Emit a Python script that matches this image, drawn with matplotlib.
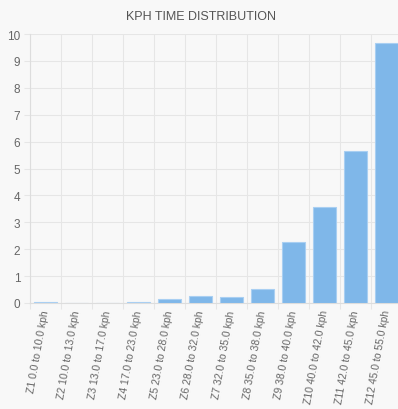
import matplotlib.pyplot as plt
import numpy as np

plt.rcParams['font.family'] = ['Liberation Sans', 'DejaVu Sans']

zones = ["Z1 0.0 to 10.0 kph", "Z2 10.0 to 13.0 kph", "Z3 13.0 to 17.0 kph",
         "Z4 17.0 to 23.0 kph", "Z5 23.0 to 28.0 kph", "Z6 28.0 to 32.0 kph",
         "Z7 32.0 to 35.0 kph", "Z8 35.0 to 38.0 kph", "Z9 38.0 to 40.0 kph",
         "Z10 40.0 to 42.0 kph", "Z11 42.0 to 45.0 kph", "Z12 45.0 to 55.0 kph"]
hours = [0.04, 0.0, 0.0, 0.04, 0.16, 0.26, 0.22, 0.52, 2.27, 3.58, 5.65, 9.67]

bg = "#f8f8f8"
grid_c = "#e6e6e6"
text_c = "#666666"

fig = plt.figure(figsize=(3.98, 4.10), dpi=100, facecolor=bg)
W, H = 398, 410
left, right, top, bottom = 30, 402, 35, 304
ax = fig.add_axes([left / W, 1 - bottom / H, (right - left) / W, (bottom - top) / H])
ax.set_facecolor(bg)

x = np.arange(len(zones))
ax.bar(x, hours, width=0.72, color="#7fb7e9", edgecolor="#a9cff2", linewidth=0.8, zorder=3)

ax.set_xlim(-0.5, len(zones) - 0.5)
ax.set_ylim(0, 10)
ax.set_yticks(range(0, 11))
ax.tick_params(axis='y', colors=grid_c, labelcolor=text_c, labelsize=8.5, length=4, width=0.8, pad=3)

# grid lines between categories
ax.set_xticks(np.arange(-0.5, len(zones), 1), minor=True)
ax.set_xticks(x)
ax.set_xticklabels(zones, rotation=80, ha='right', va='center', rotation_mode='anchor',
                   fontsize=7.5, color=text_c)
ax.tick_params(axis='x', which='major', length=0, pad=5)
ax.tick_params(axis='x', which='minor', length=4, width=0.8, colors=grid_c)
ax.grid(True, axis='x', which='minor', color=grid_c, linewidth=0.8, zorder=0)
ax.grid(True, axis='y', which='major', color=grid_c, linewidth=0.8, zorder=0)

for side in ['top', 'right']:
    ax.spines[side].set_visible(False)
for side in ['left', 'bottom']:
    ax.spines[side].set_color("#dddddd")
    ax.spines[side].set_linewidth(0.8)

fig.text(201 / W, 1 - 17 / H, "KPH TIME DISTRIBUTION",
         ha='center', va='center', fontsize=9, color="#555555")

fig.savefig("out.png", dpi=100, facecolor=bg)
